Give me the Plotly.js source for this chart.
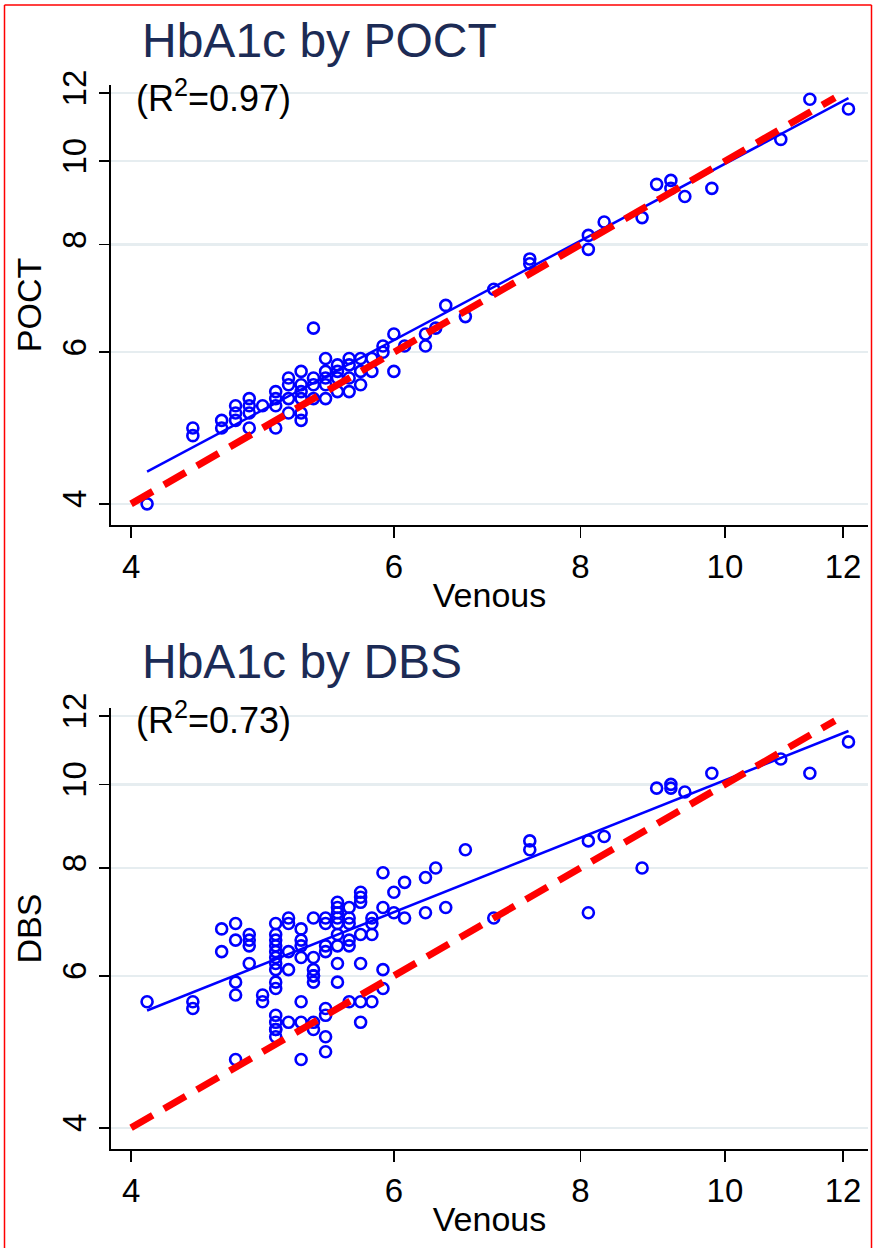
<!DOCTYPE html>
<html>
<head>
<meta charset="utf-8">
<script src="https://cdn.plot.ly/plotly-3.0.1.min.js"></script>
<style>
  html, body { margin: 0; padding: 0; background: #ffffff; }
  #chart { width: 874px; height: 1248px; }
</style>
</head>
<body>
<div id="chart"></div>
<script>
// ---------------- data ----------------
const panelTitles = ["HbA1c by POCT", "HbA1c by DBS"];
const r2Labels = ["(R<sup>2</sup>=0.97)", "(R<sup>2</sup>=0.73)"];
const yTitles = ["POCT", "DBS"];
const xTitle = "Venous";
const tickValues = [4, 6, 8, 10, 12];
const tickLabels = ["4", "6", "8", "10", "12"];

// POCT vs venous
const poctVenous = [
  4.1,
  4.4, 4.4,
  4.6, 4.6,
  4.7, 4.7, 4.7,
  4.8, 4.8, 4.8, 4.8,
  4.9,
  5.0, 5.0, 5.0, 5.0,
  5.1, 5.1, 5.1, 5.1,
  5.2, 5.2, 5.2, 5.2, 5.2, 5.2,
  5.3, 5.3, 5.3, 5.3,
  5.4, 5.4, 5.4, 5.4, 5.4,
  5.5, 5.5, 5.5, 5.5,
  5.6, 5.6, 5.6, 5.6,
  5.7, 5.7, 5.7,
  5.8, 5.8,
  5.9, 5.9,
  6.0, 6.0,
  6.1,
  6.3, 6.3,
  6.4,
  6.5,
  6.7,
  7.0,
  7.4, 7.4,
  8.1, 8.1,
  8.3,
  8.8,
  9.0,
  9.2, 9.2,
  9.4,
  9.8,
  10.9,
  11.4,
  12.1
];
const poctValues = [
  4.0,
  4.9, 4.8,
  5.0, 4.9,
  5.2, 5.1, 5.0,
  5.3, 5.2, 5.1, 4.9,
  5.2,
  5.4, 5.3, 5.2, 4.9,
  5.6, 5.5, 5.3, 5.1,
  5.7, 5.5, 5.4, 5.3, 5.1, 5.0,
  6.4, 5.6, 5.5, 5.3,
  5.9, 5.7, 5.6, 5.5, 5.3,
  5.8, 5.7, 5.6, 5.4,
  5.9, 5.8, 5.6, 5.4,
  5.9, 5.7, 5.5,
  5.9, 5.7,
  6.1, 6.0,
  6.3, 5.7,
  6.1,
  6.3, 6.1,
  6.4,
  6.8,
  6.6,
  7.1,
  7.7, 7.6,
  8.2, 7.9,
  8.5,
  8.6,
  9.4,
  9.5, 9.3,
  9.1,
  9.3,
  10.6,
  11.8,
  11.5
];

// DBS vs venous
const dbsVenous = [
  4.1,
  4.4, 4.4,
  4.6, 4.6,
  4.7, 4.7, 4.7, 4.7, 4.7,
  4.8, 4.8, 4.8, 4.8,
  4.9, 4.9,
  5.0, 5.0, 5.0, 5.0, 5.0, 5.0, 5.0, 5.0, 5.0, 5.0, 5.0, 5.0, 5.0, 5.0, 5.0,
  5.1, 5.1, 5.1, 5.1, 5.1,
  5.2, 5.2, 5.2, 5.2, 5.2, 5.2, 5.2,
  5.3, 5.3, 5.3, 5.3, 5.3, 5.3, 5.3, 5.3,
  5.4, 5.4, 5.4, 5.4, 5.4, 5.4, 5.4, 5.4,
  5.5, 5.5, 5.5, 5.5, 5.5, 5.5, 5.5, 5.5, 5.5,
  5.6, 5.6, 5.6, 5.6, 5.6, 5.6,
  5.7, 5.7, 5.7, 5.7, 5.7, 5.7, 5.7,
  5.8, 5.8, 5.8, 5.8,
  5.9, 5.9, 5.9, 5.9,
  6.0, 6.0,
  6.1, 6.1,
  6.3, 6.3,
  6.4,
  6.5,
  6.7,
  7.0,
  7.4, 7.4,
  8.1, 8.1,
  8.3,
  8.8,
  9.0,
  9.2, 9.2,
  9.4,
  9.8,
  10.9,
  11.4,
  12.1
];
const dbsValues = [
  5.6,
  5.6, 5.5,
  6.8, 6.4,
  6.9, 6.6, 5.9, 5.7, 4.8,
  6.7, 6.6, 6.5, 6.2,
  5.7, 5.6,
  6.9, 6.7, 6.6, 6.5, 6.4, 6.3, 6.2, 6.1, 5.9, 5.8, 5.4, 5.3, 5.2, 5.2, 5.1,
  7.0, 6.9, 6.4, 6.1, 5.3,
  6.8, 6.6, 6.5, 6.3, 5.6, 5.3, 4.8,
  7.0, 6.3, 6.1, 6.0, 6.0, 5.9, 5.3, 5.2,
  7.0, 6.9, 6.5, 6.4, 5.5, 5.4, 5.1, 4.9,
  7.3, 7.2, 7.1, 7.0, 6.9, 6.7, 6.5, 6.2, 5.9,
  7.2, 7.0, 6.9, 6.6, 6.5, 5.6,
  7.5, 7.4, 7.3, 6.7, 6.2, 5.6, 5.3,
  7.0, 6.9, 6.7, 5.6,
  7.9, 7.2, 6.1, 5.8,
  7.5, 7.1,
  7.7, 7.0,
  7.8, 7.1,
  8.0,
  7.2,
  8.4,
  7.0,
  8.6, 8.4,
  8.6, 7.1,
  8.7,
  8.0,
  9.9,
  10.0, 9.9,
  9.8,
  10.3,
  10.7,
  10.3,
  11.2
];

// fitted regression lines (end points)
const poctFitX = [4.1, 12.1];
const poctFitY = [4.36, 11.84];
const dbsFitX = [4.1, 12.1];
const dbsFitY = [5.47, 11.53];
// line of equality
const identityLine = [4.0, 11.85];

// ---------------- styling ----------------
const W = 874, H = 1248;
const FONT = "Liberation Sans, Arial, Helvetica, sans-serif";
const BLUE = "#0000ff";
const RED = "#ff0000";
const GRID = "#e6edf0";
const TITLE_COLOR = "#1c2b55";

function px2x(p) { return p / W; }
function px2y(p) { return 1 - p / H; }

const xRange = [Math.log10(3.878), Math.log10(12.47)];
const yRange = [Math.log10(3.78), Math.log10(12.26)];

function scatterTrace(x, y, xa, ya) {
  return {
    x: x, y: y, xaxis: xa, yaxis: ya, type: "scatter", mode: "markers",
    marker: { symbol: "circle-open", size: 11, color: BLUE, line: { width: 2.6, color: BLUE } },
    hoverinfo: "x+y", showlegend: false, cliponaxis: false
  };
}
function fitTrace(x, y, xa, ya) {
  return {
    x: x, y: y, xaxis: xa, yaxis: ya, type: "scatter", mode: "lines",
    line: { color: BLUE, width: 2.5 }, showlegend: false, hoverinfo: "skip"
  };
}
function identityTrace(xa, ya) {
  return {
    x: identityLine, y: identityLine, xaxis: xa, yaxis: ya, type: "scatter", mode: "lines",
    line: { color: RED, width: 7, dash: "25px,13px" }, showlegend: false, hoverinfo: "skip"
  };
}

const data = [
  scatterTrace(poctVenous, poctValues, "x", "y"),
  fitTrace(poctFitX, poctFitY, "x", "y"),
  identityTrace("x", "y"),
  scatterTrace(dbsVenous, dbsValues, "x2", "y2"),
  fitTrace(dbsFitX, dbsFitY, "x2", "y2"),
  identityTrace("x2", "y2")
];

function xAxis(anchor) {
  return {
    type: "log", range: xRange, domain: [px2x(111), px2x(868)], anchor: anchor,
    tickmode: "array", tickvals: tickValues, ticktext: tickLabels,
    ticks: "outside", ticklen: 11, tickwidth: 1.5, tickcolor: "#000",
    showline: true, linecolor: "#000", linewidth: 2, mirror: false,
    showgrid: false, zeroline: false, automargin: false,
    tickfont: { family: FONT, size: 33, color: "#000" },
    title: { text: xTitle, font: { family: FONT, size: 34, color: "#000" }, standoff: 0 }
  };
}
function yAxis(anchor, dom, title) {
  return {
    type: "log", range: yRange, domain: dom, anchor: anchor,
    tickmode: "array", tickvals: tickValues, ticktext: tickLabels, tickangle: -90,
    ticks: "outside", ticklen: 10, tickwidth: 1.5, tickcolor: "#000",
    showline: true, linecolor: "#000", linewidth: 2, mirror: false,
    showgrid: true, gridcolor: GRID, gridwidth: 2.5, zeroline: false, automargin: false,
    tickfont: { family: FONT, size: 33, color: "#000" },
    title: { text: title, font: { family: FONT, size: 34, color: "#000" }, standoff: 4 }
  };
}

const layout = {
  width: W, height: H,
  margin: { l: 0, r: 0, t: 0, b: 0, pad: 0 },
  paper_bgcolor: "#ffffff", plot_bgcolor: "#ffffff",
  showlegend: false,
  xaxis: xAxis("y"),
  yaxis: yAxis("x", [px2y(525), px2y(85)], yTitles[0]),
  xaxis2: xAxis("y2"),
  yaxis2: yAxis("x2", [px2y(1149), px2y(708)], yTitles[1]),
  annotations: [
    { text: panelTitles[0], xref: "paper", yref: "paper", x: px2x(140), y: px2y(40),
      xanchor: "left", yanchor: "middle", showarrow: false,
      font: { family: FONT, size: 48, color: TITLE_COLOR } },
    { text: panelTitles[1], xref: "paper", yref: "paper", x: px2x(140), y: px2y(661),
      xanchor: "left", yanchor: "middle", showarrow: false,
      font: { family: FONT, size: 48, color: TITLE_COLOR } },
    { text: r2Labels[0], xref: "paper", yref: "paper", x: px2x(134), y: px2y(96),
      xanchor: "left", yanchor: "middle", showarrow: false,
      font: { family: FONT, size: 36, color: "#000" } },
    { text: r2Labels[1], xref: "paper", yref: "paper", x: px2x(134), y: px2y(718),
      xanchor: "left", yanchor: "middle", showarrow: false,
      font: { family: FONT, size: 36, color: "#000" } }
  ],
  shapes: [
    { type: "line", xref: "paper", yref: "paper", x0: px2x(4.5), x1: px2x(4.5), y0: px2y(5), y1: px2y(1248), line: { color: RED, width: 1.5 } },
    { type: "line", xref: "paper", yref: "paper", x0: px2x(4.5), x1: px2x(871.5), y0: px2y(5), y1: px2y(5), line: { color: RED, width: 1.5 } },
    { type: "line", xref: "paper", yref: "paper", x0: px2x(871.5), x1: px2x(871.5), y0: px2y(5), y1: px2y(1248), line: { color: RED, width: 1.5 } }
  ]
};

Plotly.newPlot("chart", data, layout, { displayModeBar: false, staticPlot: true });
</script>
</body>
</html>
